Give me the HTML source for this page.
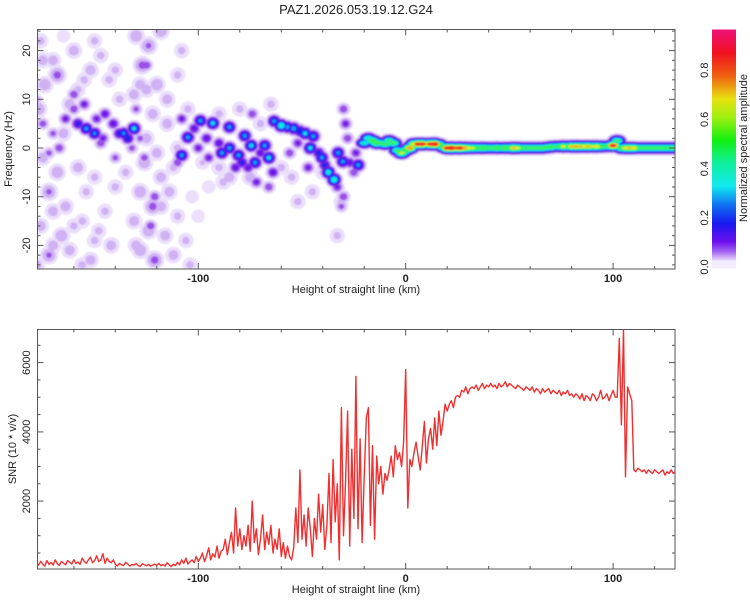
<!DOCTYPE html>
<html><head><meta charset="utf-8"><style>
html,body{margin:0;padding:0;background:#fff;}
svg{display:block;font-family:"Liberation Sans",sans-serif;}
</style></head><body>
<svg id="chart" width="750" height="600" viewBox="0 0 750 600">
<defs>
<clipPath id="topclip"><rect x="37.5" y="29.5" width="637.5" height="239.5"/></clipPath>
<clipPath id="botclip"><rect x="37.5" y="329.5" width="637.5" height="239.5"/></clipPath>
<filter id="soft" x="-5%" y="-5%" width="110%" height="110%"><feGaussianBlur stdDeviation="0.7"/></filter>
<linearGradient id="cbgrad" x1="0" y1="1" x2="0" y2="0">
<stop offset="0" stop-color="#e8d8fa"/><stop offset="0.04" stop-color="#a060f0"/><stop offset="0.08" stop-color="#7010f0"/>
<stop offset="0.16" stop-color="#1818f0"/><stop offset="0.24" stop-color="#1070f0"/><stop offset="0.32" stop-color="#10e8f0"/>
<stop offset="0.42" stop-color="#10f0a0"/><stop offset="0.52" stop-color="#10f010"/><stop offset="0.62" stop-color="#a0f010"/>
<stop offset="0.7" stop-color="#e8e010"/><stop offset="0.8" stop-color="#f06010"/><stop offset="0.9" stop-color="#f01020"/>
<stop offset="1" stop-color="#f0107a"/></linearGradient>
</defs>
<text x="356" y="14" font-size="13" text-anchor="middle" fill="#222">PAZ1.2026.053.19.12.G24</text>
<g clip-path="url(#topclip)"><g id="specg" filter="url(#soft)"></g></g>
<g id="snrg" clip-path="url(#botclip)"></g>
<g id="axes"></g>
<rect x="712" y="29.5" width="24" height="231" fill="url(#cbgrad)"/>
<rect x="712" y="260.5" width="24" height="8" fill="#f3ecfc"/>
<text transform="translate(747,148) rotate(-90)" font-size="11" text-anchor="middle" fill="#222">Normalized spectral amplitude</text>
<text transform="translate(12,149) rotate(-90)" font-size="11" text-anchor="middle" fill="#222">Frequency (Hz)</text>
<text transform="translate(16,449) rotate(-90)" font-size="11" text-anchor="middle" fill="#222">SNR (10 * v/v)</text>
<text x="356" y="293" font-size="11" text-anchor="middle" fill="#222">Height of straight line (km)</text>
<text x="356" y="593" font-size="11" text-anchor="middle" fill="#222">Height of straight line (km)</text>
</svg>
<script>
// ---- spectrogram data ----
const ridgeKm=[-20,-18,-16,-14,-12,-10,-8,-6,-4,-2,0,2,4,6,8,10,12,14,16,18,20,22,24,26,28,30,32,34,36,38,40,42,44,46,48,50,52,54,56,58,60,62,64,66,68,70,72,74,76,78,80,82,84,86,88,90,92,94,96,98,100,102,104,106,108,110,112,114,116,118,120,122,124,126,128,130];
const ridgeHz=[1.0,2.0,1.5,1.0,1.0,0.8,1.5,1.0,-0.5,-1.0,-0.5,0.0,0.8,0.8,0.8,0.8,0.8,0.8,0.7,0.2,0,0,0,0,0,0,0,0,0,0,0,0,0,0,0,0,0,0,0,0,0,0,0,0,0.1,0.2,0.3,0.3,0.3,0.3,0.3,0.3,0.3,0.3,0.3,0.3,0.3,0.3,0.3,0.4,0.5,1.5,0,0,0,0,0,0,0,0,0,0,0,0,0,0];
const ridgeAmp=[0.4,0.45,0.6,0.6,0.5,0.55,0.5,0.55,0.5,0.65,0.6,0.8,0.7,0.9,0.9,0.7,0.9,0.95,0.6,0.6,0.9,0.95,0.85,0.9,0.8,0.7,0.65,0.6,0.6,0.6,0.55,0.55,0.6,0.55,0.6,0.6,0.72,0.65,0.55,0.55,0.55,0.55,0.55,0.55,0.55,0.58,0.5,0.55,0.65,0.6,0.72,0.75,0.72,0.7,0.72,0.65,0.7,0.6,0.5,0.6,0.9,0.5,0.6,0.7,0.72,0.7,0.55,0.55,0.55,0.55,0.55,0.55,0.55,0.55,0.55,0.55];
const noiseKm=[-176,-170,-165,-160,-174,-168,-158,-152,-177,-162,-175,-168,-158,-172,-164,-154,-176,-166,-156,-172,-162,-152,-150,-145,-142,-140,-147,-143,-150,-178,-130,-124,-118,-127,-120,-131,-115,-110,-122,-126,-118,-128,-122,-114,-110,-131,-124,-116,-106,-128,-121,-112,-104,-103,-100,-108,-95,-90,-105,-80,-70,-60,-75,-45,-33,-31,-52,-90,-85,-170,-160,-150,-175,-165,-155,-125,-115,-130,-120,-110,-118,-128,-135,-138,-140,-148,-170,-156,-125,-112,-98,-88,-65,-55,-40];
const noiseHz=[22,18,23,20,13,15,12,16,8,9,-2,-5,-4,-9,-12,-9,-16,-18,-15,-22,-21,-23,-19,-13,-20,-8,19,14,22,-24,23,21,24,17,13,11,10,15,7,-3,-6,-9,-12,-9,-14,-15,-17,-18,-19,-21,-23,-22,-24,-10,-14,20,-8,-4,8,8,5,-4,-6,-9,-18,-11,-11,7,-6,-13,-16,-6,18,3,14,2,5,-20,-1,0,-12,13,-5,10,16,-17,-20,-24,12,-4,-3,-7,9,-6,-5];
const noiseAmp=[0.04,0.05,0.03,0.05,0.06,0.08,0.04,0.05,0.06,0.05,0.05,0.06,0.05,0.07,0.05,0.04,0.05,0.06,0.04,0.07,0.05,0.05,0.04,0.04,0.05,0.04,0.04,0.04,0.04,0.05,0.06,0.07,0.06,0.08,0.06,0.05,0.05,0.04,0.05,0.06,0.05,0.06,0.08,0.05,0.04,0.05,0.06,0.05,0.04,0.06,0.08,0.05,0.04,0.03,0.03,0.04,0.03,0.04,0.04,0.04,0.04,0.04,0.05,0.04,0.04,0.04,0.04,0.04,0.05,0.05,0.04,0.04,0.05,0.05,0.04,0.05,0.05,0.05,0.05,0.04,0.05,0.05,0.04,0.04,0.04,0.04,0.05,0.04,0.05,0.04,0.035,0.04,0.04,0.04,0.04];
const spotKm=[-125,-123,-121,-121,-175,-170,-167,-172,-164,-160,-158,-154,-150,-149,-145,-146,-141,-138,-136,-134,-131,-130,-132,-178,-160,-155,-147,-140,-126,-128,-108,-105,-108,-102,-99,-96,-93,-90,-88.6,-85,-85,-80.6,-82,-77.6,-74.5,-72.6,-70,-68,-66,-64,-72,-66,-76,-79,-95,-100,-110,-74,-63.4,-60,-57,-54,-51,-48.5,-46,-44.6,-42,-40.4,-39,-37.3,-34.5,-33,-30,-31,-47,-52,-56,-32.6,-30.3,-27,-22.9,-24,-29,-30,-28,-25];
const spotHz=[17,-16,-23,-10,5,3,0,-1,6,8,5,4,3,6,7,2,5,3,3,2,4,8,0,10,11,9,1,-2,-2,2,6,2.2,-1.5,4,5.6,2,5.1,1,-1,4.3,0,-1.5,-4,2.5,0.5,-3,-1,0.5,-2,-5,-7,-8,-4,-3,-2,0,-3,7,5.5,4.6,4.3,4,3.5,3,0,2.4,-1,-2,-3.5,-5,-6.5,-8,-10,-12,-4,1,-1,-1,-2.8,-3,-3.5,-1,5,8,2,-5];
const spotAmp=[0.1,0.1,0.1,0.1,0.09,0.08,0.1,0.08,0.12,0.1,0.2,0.3,0.28,0.12,0.14,0.12,0.15,0.2,0.28,0.22,0.35,0.08,0.08,0.06,0.1,0.12,0.1,0.08,0.09,0.08,0.12,0.3,0.3,0.15,0.3,0.15,0.35,0.15,0.3,0.3,0.3,0.3,0.15,0.3,0.35,0.3,0.15,0.3,0.35,0.15,0.12,0.1,0.15,0.2,0.12,0.12,0.1,0.1,0.3,0.45,0.3,0.32,0.25,0.35,0.35,0.3,0.2,0.3,0.2,0.4,0.45,0.12,0.1,0.08,0.12,0.12,0.1,0.3,0.3,0.15,0.3,0.12,0.12,0.1,0.1,0.1];
// ---- SNR data (1 km steps starting at -178) ----
const snrStartKm=-178;
const snrValues=[200,150,260,180,120,280,170,230,150,300,
190,140,250,210,160,280,230,180,310,200,
240,170,350,260,200,300,380,220,280,420,
250,300,480,200,350,260,220,300,170,120,
200,160,140,230,180,120,170,150,200,140,
110,190,160,130,170,120,150,180,140,200,
130,170,120,220,150,110,180,140,230,160,
300,200,350,180,250,300,220,400,260,350,
500,250,420,650,300,480,380,700,350,550,
600,900,450,800,1100,500,1800,700,1200,600,
1000,700,1300,550,2000,800,1200,450,900,1600,
600,1100,750,1300,500,900,600,1200,400,800,
350,700,400,300,650,1800,800,2900,900,1600,
700,1800,1200,400,1500,900,2200,1100,1900,600,
1300,2800,800,3200,1400,2500,300,4700,1000,2600,
4600,700,3500,1500,5600,1200,3800,800,2700,4400,
4700,1300,3600,900,3300,2500,3000,2200,2800,2600,
2900,3300,2700,3600,3200,3400,3000,3700,5800,1800,
3200,3000,3400,3700,3300,2900,3600,4300,3100,3800,
4100,3500,4400,3600,4600,3900,4300,4800,4600,4800,
4900,4700,5000,5050,5000,5200,5150,5300,5100,5250,
5300,5250,5350,5200,5300,5400,5250,5350,5300,5400,
5300,5350,5250,5400,5300,5350,5450,5300,5400,5350,
5300,5250,5350,5300,5250,5200,5300,5250,5200,5300,
5150,5250,5200,5100,5250,5150,5200,5250,5100,5200,
5150,5100,5200,5050,5150,5100,5200,5050,5100,5000,
5100,5050,4950,5100,4900,5050,5000,4900,5100,5050,
4900,5000,5200,4950,5000,5100,4900,5050,5200,5000,
5000,6700,4200,6950,2700,5300,5100,4900,2900,2850,
2950,2900,2850,2900,2800,2900,2850,2800,2900,2850,
2800,2850,2900,2750,2850,2800,2900,2800,2850];
const xTickLabels=["-100","0","100"];
const topYTickLabels=["-20","-10","0","10","20"];
const botYTickLabels=["2000","4000","6000"];
const cbTickLabels=["0.0","0.2","0.4","0.6","0.8"];

const NS="http://www.w3.org/2000/svg";
function xk(km){return 405.7+km*2.074;}
function yHz(hz){return 148-hz*4.87;}
function ySnr(v){return 570.3-v*0.03461;}
function mk(tag,attrs,parent){const e=document.createElementNS(NS,tag);for(const k in attrs)e.setAttribute(k,attrs[k]);parent.appendChild(e);return e;}

const levels=[0.012,0.03,0.06,0.1,0.16,0.25,0.32,0.45,0.6,0.7,0.8];
const lvlColors=["#ebdffb","#d0b2f4","#9a50e8","#6c18ea","#2424f0","#1a90ff","#10e8e0","#30f060","#d8f020","#f0a020","#f02020"];
const spec=document.getElementById('specg');
const blobs=[];
for(let i=0;i<noiseKm.length;i++)blobs.push({x:xk(noiseKm[i]),y:yHz(noiseHz[i]),a:noiseAmp[i],sx:5,sy:5,n:'noise-blob'});
for(let i=0;i<spotKm.length;i++)blobs.push({x:xk(spotKm[i]),y:yHz(spotHz[i]),a:spotAmp[i],sx:3.6,sy:3.4,n:'spectral-peak'});
for(let i=0;i<ridgeKm.length;i++)blobs.push({x:xk(ridgeKm[i]),y:yHz(ridgeHz[i]),a:ridgeAmp[i],sx:3.6,sy:2.9,n:'ridge-segment'});
for(let L=0;L<levels.length;L++){
  const g=mk('g',{fill:lvlColors[L]},spec);
  for(const b of blobs){
    if(b.a<=levels[L])continue;
    const f=Math.sqrt(2*Math.log(b.a/levels[L]));
    const e=mk('ellipse',{cx:b.x.toFixed(1),cy:b.y.toFixed(1),rx:(b.sx*f+(b.n==='ridge-segment'?1.5:0)).toFixed(2),ry:(b.sy*f).toFixed(2)},g);
    
    
  }
}
// SNR line
const snrg=document.getElementById('snrg');
let d='';
for(let i=0;i<snrValues.length;i++){d+=(i?'L':'M')+xk(snrStartKm+i).toFixed(1)+' '+ySnr(snrValues[i]).toFixed(1);}
const ln=mk('path',{d:d,fill:'none',stroke:'#f03030','stroke-width':1.4,'stroke-linejoin':'round'},snrg);



// axes
const ax=document.getElementById('axes');
const col='#555';
function frame(y0,y1,name){
  const r=mk('rect',{x:37.5,y:y0,width:637.5,height:y1-y0,fill:'none',stroke:col,'stroke-width':1},ax);
  
  
  for(let km=-160;km<=120;km+=20){
    const x=xk(km).toFixed(1);const maj=(km%100===0);const len=maj?6:3;
    mk('line',{x1:x,x2:x,y1:y0,y2:y0+len,stroke:col},ax);
    mk('line',{x1:x,x2:x,y1:y1,y2:y1-len,stroke:col},ax);
  }
  xTickLabels.forEach(s=>{const t=mk('text',{x:xk(+s),y:y1+13,'font-size':11,'font-weight':'bold','text-anchor':'middle',fill:'#222'},ax);t.textContent=s;
    
    });
}
frame(29.5,269,'top-plot-frame');
frame(329.5,569,'bottom-plot-frame');
for(let hz=-24;hz<=24;hz+=2){const y=yHz(hz).toFixed(1);const len=hz%10===0?6:3;
  mk('line',{x1:37.5,x2:37.5+len,y1:y,y2:y,stroke:col},ax);mk('line',{x1:675,x2:675-len,y1:y,y2:y,stroke:col},ax);}
topYTickLabels.forEach(s=>{const t=mk('text',{transform:`translate(30,${yHz(+s)}) rotate(-90)`,'font-size':11,'text-anchor':'middle',fill:'#222'},ax);t.textContent=s;
  
  });
for(let v=500;v<=6500;v+=500){const y=ySnr(v).toFixed(1);const len=v%2000===0?6:3;
  mk('line',{x1:37.5,x2:37.5+len,y1:y,y2:y,stroke:col},ax);mk('line',{x1:675,x2:675-len,y1:y,y2:y,stroke:col},ax);}
botYTickLabels.forEach(s=>{const t=mk('text',{transform:`translate(30,${ySnr(+s)}) rotate(-90)`,'font-size':11,'text-anchor':'middle',fill:'#222'},ax);t.textContent=s;
  
  });
cbTickLabels.forEach(s=>{const y=267-(+s)*246;const t=mk('text',{transform:`translate(708,${y}) rotate(-90)`,'font-size':11,'text-anchor':'middle',fill:'#222'},ax);t.textContent=s;
  
  });
</script>
</body></html>
